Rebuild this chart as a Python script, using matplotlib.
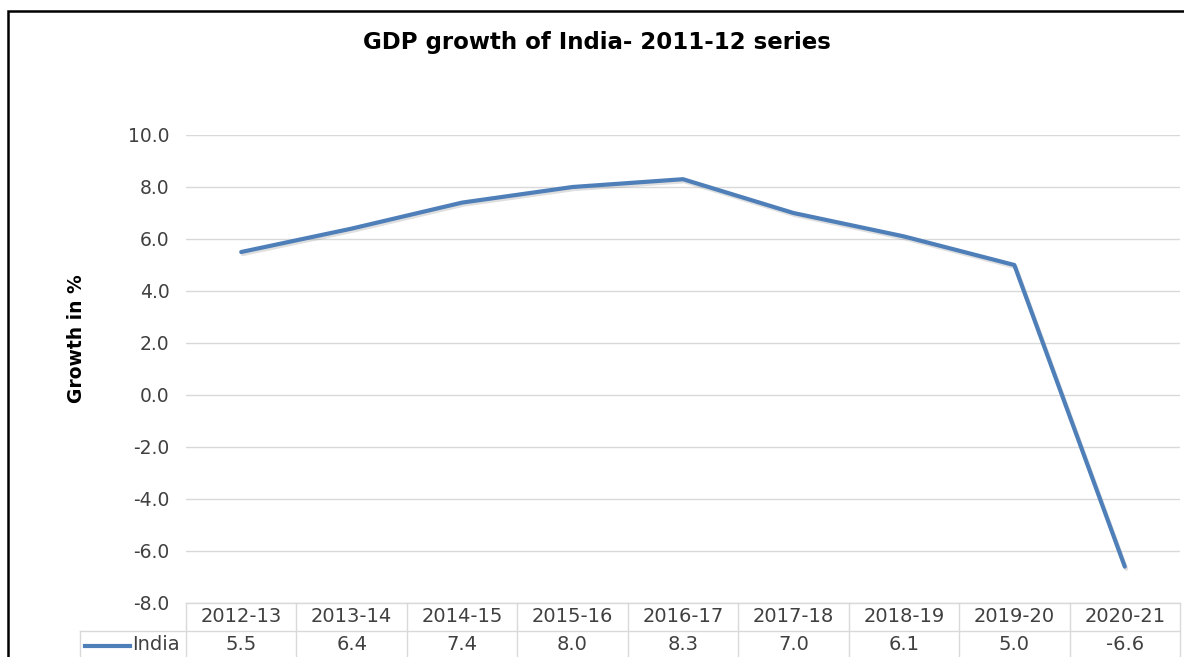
import matplotlib
matplotlib.use("Agg")
import matplotlib.pyplot as plt
import matplotlib.patches as mpatches
import matplotlib.patheffects as pe
from matplotlib.transforms import blended_transform_factory

years = ["2012-13", "2013-14", "2014-15", "2015-16", "2016-17",
         "2017-18", "2018-19", "2019-20", "2020-21"]
growth = [5.5, 6.4, 7.4, 8.0, 8.3, 7.0, 6.1, 5.0, -6.6]
series_name = "India"
y_ticks = [-8, -6, -4, -2, 0, 2, 4, 6, 8, 10]

C_LINE = "#4F7FB8"
C_GRID = "#D9D9D9"
C_TEXT = "#404040"

W, H = 1184, 657
fig = plt.figure(figsize=(W / 100, H / 100), dpi=100, facecolor="white")
plt.rcParams["font.family"] = "DejaVu Sans"

# plot area in pixels: x 186..1180, y 135..603
ax = fig.add_axes([186 / W, 1 - 603 / H, 994 / W, 468 / H])
ax.set_facecolor("white")

x = list(range(len(years)))
ax.plot(x, growth, color=C_LINE, lw=3.0, solid_capstyle="round", zorder=3,
        path_effects=[pe.SimpleLineShadow(offset=(1, -1.5), shadow_color="gray", alpha=0.25),
                      pe.Normal()])

ax.set_xlim(-0.5, len(years) - 0.5)
ax.set_ylim(-8, 10)
ax.set_yticks(y_ticks)
ax.set_yticklabels([f"{v:.1f}" for v in y_ticks], color=C_TEXT, fontsize=13.5)
ax.set_xticks([])
ax.tick_params(axis="y", length=0, pad=12)
for s in ax.spines.values():
    s.set_visible(False)
ax.grid(axis="y", color=C_GRID, lw=1.0)
ax.set_axisbelow(True)

# data table under the plot (x in data units, y in axes fraction)
tr = blended_transform_factory(ax.transData, ax.transAxes)
row_h = 28 / 468
n = len(years)
kw = dict(transform=tr, clip_on=False, color=C_GRID, lw=1.0)
ax.plot([-0.5, n - 0.5], [0, 0], **kw)
ax.plot([-1.46, n - 0.5], [-row_h, -row_h], **kw)
for i in range(n + 1):
    ax.plot([i - 0.5, i - 0.5], [0, -0.2], **kw)
ax.plot([-1.46, -1.46], [-row_h, -0.2], **kw)

for i, (yr, v) in enumerate(zip(years, growth)):
    ax.text(i, -row_h / 2, yr, transform=tr, ha="center", va="center",
            fontsize=14, color=C_TEXT)
    ax.text(i, -row_h * 1.5, f"{v:.1f}", transform=tr, ha="center", va="center",
            fontsize=14, color=C_TEXT)

# legend key inside the table
ax.plot([-1.415, -1.01], [-0.0919, -0.0919], transform=tr, clip_on=False,
        color=C_LINE, lw=3.0)
ax.text(-0.99, -row_h * 1.5, series_name, transform=tr, ha="left", va="center",
        fontsize=14, color=C_TEXT)

fig.text(597 / W, 1 - 42 / H, "GDP growth of India- 2011-12 series",
         ha="center", va="center", fontsize=16.5, fontweight="bold", color="black")
fig.text(77 / W, 1 - 339 / H, "Growth in %", rotation=90, ha="center", va="center",
         fontsize=13.5, fontweight="bold", color="black")

# black frame around the chart (right/bottom edges run off the image)
fig.add_artist(mpatches.Rectangle((8 / W, -0.5), 2.0, 0.5 + 1 - 11 / H,
                                  transform=fig.transFigure, fill=False,
                                  edgecolor="black", lw=1.8, clip_on=False))

fig.savefig("out.png", dpi=100, facecolor="white")
